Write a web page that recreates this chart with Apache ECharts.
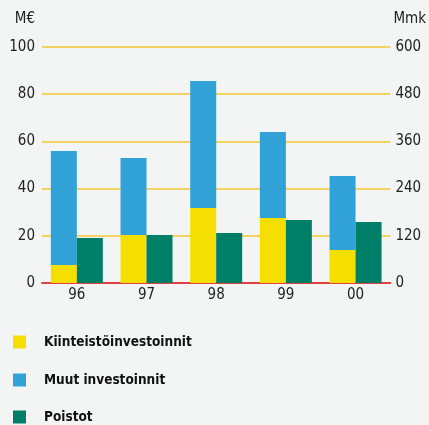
<!DOCTYPE html>
<html>
<head>
<meta charset="utf-8">
<script src="https://cdn.jsdelivr.net/npm/echarts@6/dist/echarts.min.js"></script>
<style>
  html, body { margin: 0; padding: 0; background: #f2f5f4; }
  #chart { width: 429px; height: 425px; }
</style>
</head>
<body>
<div id="chart"></div>
<script>
// vuodet
var years = ['96', '97', '98', '99', '00'];
// M€
var kiinteisto = [7.6, 20.3, 31.8, 27.5, 14.0];
var muut = [48.3, 32.7, 53.8, 36.5, 31.3];
var poistot = [19.1, 20.3, 21.2, 26.7, 25.8];
var names = ['Kiinteistöinvestoinnit', 'Muut investoinnit', 'Poistot'];

var font = "'Liberation Sans Narrow', 'DejaVu Sans Condensed', 'Liberation Sans', sans-serif";

// yksi selite per rivi
var legendTops = [335, 373, 410];
var legends = names.map(function(n, i) {
    return {
        orient: 'vertical',
        left: 13,
        top: legendTops[i],
        padding: 0,
        itemWidth: 13,
        itemHeight: 13,
        icon: 'rect',
        textStyle: { fontFamily: font, fontSize: 13.5, fontWeight: 'bold', color: '#111', padding: [0, 0, 0, 13] },
        data: [n]
    };
});

var myChart = echarts.init(document.getElementById('chart'));
var option = {
    backgroundColor: '#f2f5f4',
    animation: false,
    grid: { left: 42, right: 35, top: 47, bottom: 142 },
    legend: legends,
    xAxis: {
        type: 'category',
        data: years,
        axisLine: { lineStyle: { color: '#e04040', width: 2 } },
        axisTick: { show: false },
        axisLabel: { fontFamily: font, fontSize: 15, color: '#222', margin: 5 }
    },
    yAxis: [
        {
            type: 'value', min: 0, max: 100, interval: 20,
            name: 'M€', nameLocation: 'end', nameGap: 20,
            nameTextStyle: { fontFamily: font, fontSize: 15, color: '#222', align: 'right', padding: [0, 7, 0, 0] },
            axisLine: { show: false }, axisTick: { show: false },
            axisLabel: { fontFamily: font, fontSize: 15, color: '#222', margin: 7 },
            splitLine: { lineStyle: { color: '#f5c430', width: 1.5 } }
        },
        {
            type: 'value', min: 0, max: 600, interval: 120,
            name: 'Mmk', nameLocation: 'end', nameGap: 20,
            nameTextStyle: { fontFamily: font, fontSize: 15, color: '#222', align: 'left', padding: [0, 0, 0, 3] },
            axisLine: { show: false }, axisTick: { show: false },
            axisLabel: { fontFamily: font, fontSize: 15, color: '#222', margin: 5 },
            splitLine: { show: false }
        }
    ],
    series: [
        {
            name: names[0], type: 'bar', stack: 'inv',
            barWidth: 26, barGap: '0%',
            itemStyle: { color: '#f5df00' },
            data: kiinteisto
        },
        {
            name: names[1], type: 'bar', stack: 'inv',
            barWidth: 26, barGap: '0%',
            itemStyle: { color: '#30a2d8' },
            data: muut
        },
        {
            name: names[2], type: 'bar',
            barWidth: 26, barGap: '0%',
            itemStyle: { color: '#007f68' },
            data: poistot
        }
    ]
};
myChart.setOption(option);
</script>
</body>
</html>
